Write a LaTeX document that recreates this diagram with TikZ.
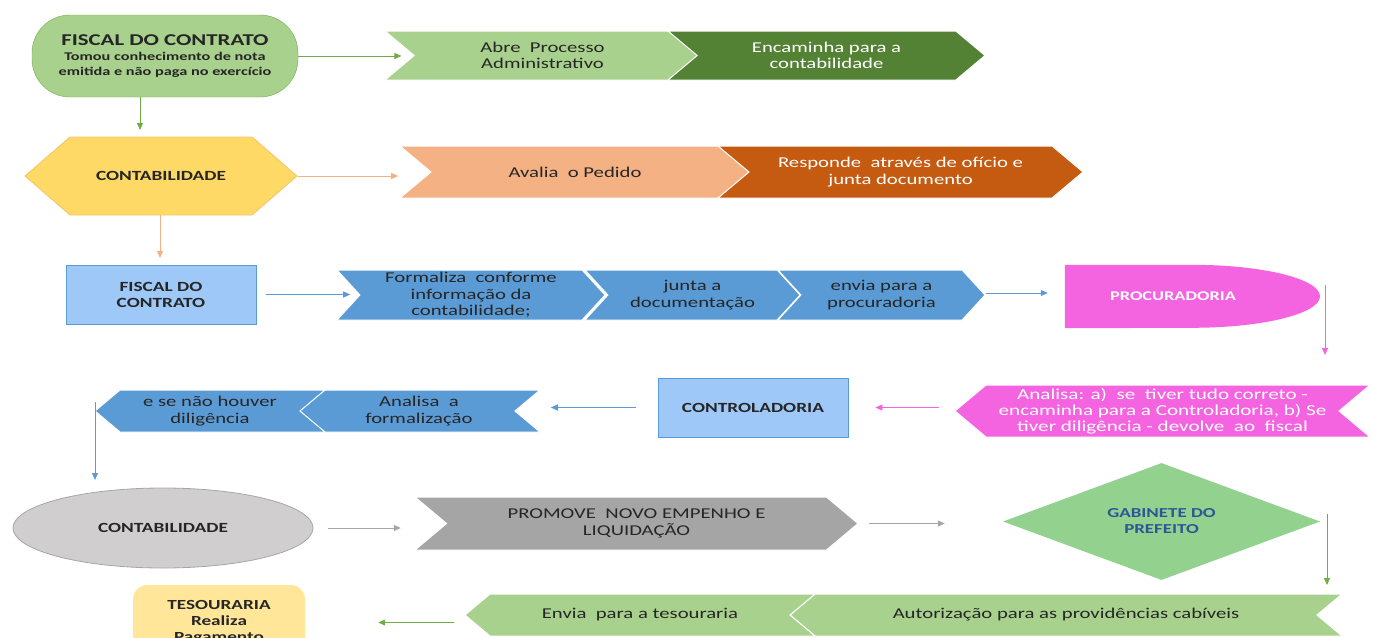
\documentclass[tikz,border=0pt]{standalone}
\usepackage{fontspec}
\setmainfont{Carlito}[FakeStretch=1.38]
\usepackage{tikz}
\usetikzlibrary{positioning,shapes.symbols,shapes.geometric,arrows.meta,backgrounds}

\definecolor{verdeclaro}{HTML}{A9D18E}
\definecolor{verdeescuro}{HTML}{548235}
\definecolor{verdeborda}{HTML}{70AD47}
\definecolor{amarelo}{HTML}{FFD966}
\definecolor{amareloborda}{HTML}{F4C470}
\definecolor{salmao}{HTML}{F4B183}
\definecolor{laranja}{HTML}{C55A11}
\definecolor{azulclaro}{HTML}{9DC8F7}
\definecolor{azul}{HTML}{5B9BD5}
\definecolor{rosa}{HTML}{F564E0}
\definecolor{cinzaclaro}{HTML}{D0CECE}
\definecolor{cinza}{HTML}{A5A5A5}
\definecolor{cinzaborda}{HTML}{A6A6A6}
\definecolor{verdediam}{HTML}{92D28E}
\definecolor{azultexto}{HTML}{2F5597}
\definecolor{creme}{HTML}{FFE699}
\definecolor{texto}{HTML}{262626}

\tikzset{
    etapa/.style={shape=signal, signal to=east, signal from=west,
        signal pointer angle=80, inner sep=0pt, align=center,
        draw=white, line width=1pt, text=texto,
        font=\fontsize{15}{16.5}\selectfont},
    etapavolta/.style={etapa, signal to=west, signal from=east},
    caixa/.style={draw=azul, fill=azulclaro, line width=0.8pt,
        minimum width=190, minimum height=59, align=center, text=texto,
        font=\fontsize{14}{16}\selectfont\bfseries},
    seta/.style={-{Triangle[length=7pt,width=6pt]}, line width=1pt},
}

\begin{document}
\begin{tikzpicture}[x=1pt,y=-1pt]
    \useasboundingbox (0,0) rectangle (1373,637);

    % Fiscal do contrato
    \node [draw=verdeborda,
        fill=verdeclaro,
        rounded corners=38pt,
        minimum width=266,
        minimum height=82,
        align=center,
        text=texto,
        font=\fontsize{11.8}{15}\selectfont\bfseries
            ] (fiscalA) at (165,56) {{\fontsize{16.5}{19}\selectfont FISCAL DO CONTRATO}\\
            Tomou conhecimento de nota\\emitida e não paga no exercício};

    \node [etapa, fill=verdeclaro, minimum width=315, minimum height=49]
        (abre) at (542.5,55.5) {Abre~ Processo\\Administrativo};
    \node [etapa, fill=verdeescuro, text=white, minimum width=317, minimum height=49]
        (encaminha) at (826.5,55.5) {Encaminha para a\\contabilidade};

    % Contabilidade
    \node [shape=signal, signal to=west and east, signal pointer angle=82,
        draw=amareloborda, fill=amarelo, line width=0.8pt,
        minimum width=272, minimum height=78, inner sep=0pt,
        text=texto, font=\fontsize{14}{16}\selectfont\bfseries
            ] (contA) at (161,176) {CONTABILIDADE};

    \node [etapa, fill=salmao, minimum width=350, minimum height=52]
        (avalia) at (575,172) {Avalia~ o Pedido};
    \node [etapa, fill=laranja, text=white, minimum width=365, minimum height=52]
        (responde) at (900.5,172) {Responde~ através de ofício e\\junta documento};

    % Fiscal formaliza
    \node [caixa] (fiscalB) at (161,294.5) {FISCAL DO\\CONTRATO};

    \node [etapa, fill=azul, signal pointer angle=95, minimum width=268, minimum height=50]
        (formaliza) at (471,295) {Formaliza~ conforme\\informação da\\contabilidade;};
    \node [etapa, fill=azul, signal pointer angle=95, minimum width=215, minimum height=50]
        (junta) at (692.5,295) {junta a\\documentação};
    \node [etapa, fill=azul, signal pointer angle=95, minimum width=207, minimum height=50]
        (envia) at (881.5,295) {envia para a\\procuradoria};

    % Procuradoria
    \node [minimum width=216, minimum height=63, text=white,
        font=\fontsize{13.3}{15}\selectfont\bfseries] (proc) at (1173,296.5) {PROCURADORIA};
    \begin{scope}[on background layer]
        \fill[rosa] (proc.south west) -- (proc.north west) -- ([xshift=19pt]proc.north)
            arc[start angle=-90, end angle=90, x radius=128, y radius=31.5] -- cycle;
    \end{scope}

    % Analise e controladoria
    \node [etapavolta, fill=rosa, text=white, minimum width=415, minimum height=52,
        font=\fontsize{15.3}{16}\selectfont]
        (analisaP) at (1162.5,411) {Analisa: a)~ se~ tiver tudo correto -\\encaminha para a Controladoria, b) Se\\tiver diligência - devolve~ ao~ fiscal};

    \node [caixa] (ctrl) at (753,407.5) {CONTROLADORIA};

    \node [etapavolta, fill=azul, minimum width=242, minimum height=42]
        (analisaF) at (419,411) {Analisa~ a\\formalização};
    \node [etapavolta, fill=azul, minimum width=230, minimum height=42]
        (diligencia) at (210,411) {e se não houver\\diligência};

    % Empenho
    \node [ellipse, draw=cinzaborda, fill=cinzaclaro, line width=0.8pt,
        minimum width=300, minimum height=80, inner sep=0pt,
        text=texto, font=\fontsize{14}{16}\selectfont\bfseries
            ] (contB) at (163,528) {CONTABILIDADE};

    \node [etapa, fill=cinza, minimum width=443, minimum height=53]
        (promove) at (636.5,523.5) {PROMOVE~ NOVO EMPENHO E\\LIQUIDAÇÃO};

    \node [diamond, fill=verdediam, aspect=2.7,
        minimum width=317, minimum height=117, inner sep=0pt, align=center,
        text=azultexto, font=\fontsize{13.7}{16}\selectfont\bfseries
            ] (gabinete) at (1161.5,521.5) {GABINETE DO\\PREFEITO};

    % Tesouraria
    \node [etapavolta, fill=verdeclaro, minimum width=552, minimum height=42]
        (autoriza) at (1066,615) {Autorização para as providências cabíveis};
    \node [etapavolta, fill=verdeclaro, minimum width=350, minimum height=42]
        (enviaT) at (640,615) {Envia~ para a tesouraria};

    \node [fill=creme,
        rounded corners=14pt,
        minimum width=172,
        minimum height=75,
        align=center,
        text=texto,
        font=\fontsize{13.9}{16}\selectfont\bfseries
            ] (tes) at (219,622.5) {TESOURARIA\\Realiza\\Pagamento};

    % ligacoes
    \coordinate (p1) at (140,130);
    \coordinate (p2) at (160,258);
    \coordinate (p3) at (1325,355);
    \coordinate (p4) at (95,480);
    \coordinate (p5) at (1327,585);

    \draw[seta, verdeborda, shorten >=12pt] (fiscalA.east) -- (fiscalA.east -| abre.west);
    \draw[seta, verdeborda] (p1 |- fiscalA.south) -- (p1);
    \draw[seta, salmao, shorten >=32pt] (contA.east) -- (contA.east -| avalia.west);
    \draw[seta, salmao] (p2 |- contA.south) -- (p2);
    \draw[seta, azul, shorten <=10pt, shorten >=9pt] (fiscalB.east) -- (fiscalB.east -| formaliza.west);
    \draw[seta, azul, shorten >=17pt] ([yshift=2pt]envia.east) -- ([yshift=2pt]envia.east -| proc.west);
    \draw[seta, rosa] ([yshift=12pt]p3 |- proc.center) -- (p3);
    \draw[seta, rosa, shorten <=15pt, shorten >=27pt] (analisaP.west |- ctrl.east) -- (ctrl.east);
    \draw[seta, azul, shorten <=22pt, shorten >=35pt] (ctrl.west) -- (ctrl.west -| analisaF.east);
    \draw[seta, azul] ([yshift=9pt]p4 |- diligencia.west) -- (p4);
    \draw[seta, cinzaborda, shorten <=15pt, shorten >=45pt] (contB.east) -- (contB.east -| promove.west);
    \draw[seta, cinzaborda, shorten <=10pt, shorten >=58pt] (promove.east) -- (promove.east -| gabinete.west);
    \draw[seta, verdeborda] ([yshift=8pt]p5 |- gabinete.center) -- (p5);
    \draw[seta, verdeborda, shorten <=10pt, shorten >=73pt] (enviaT.west |- tes.east) -- (tes.east);
\end{tikzpicture}
\end{document}
